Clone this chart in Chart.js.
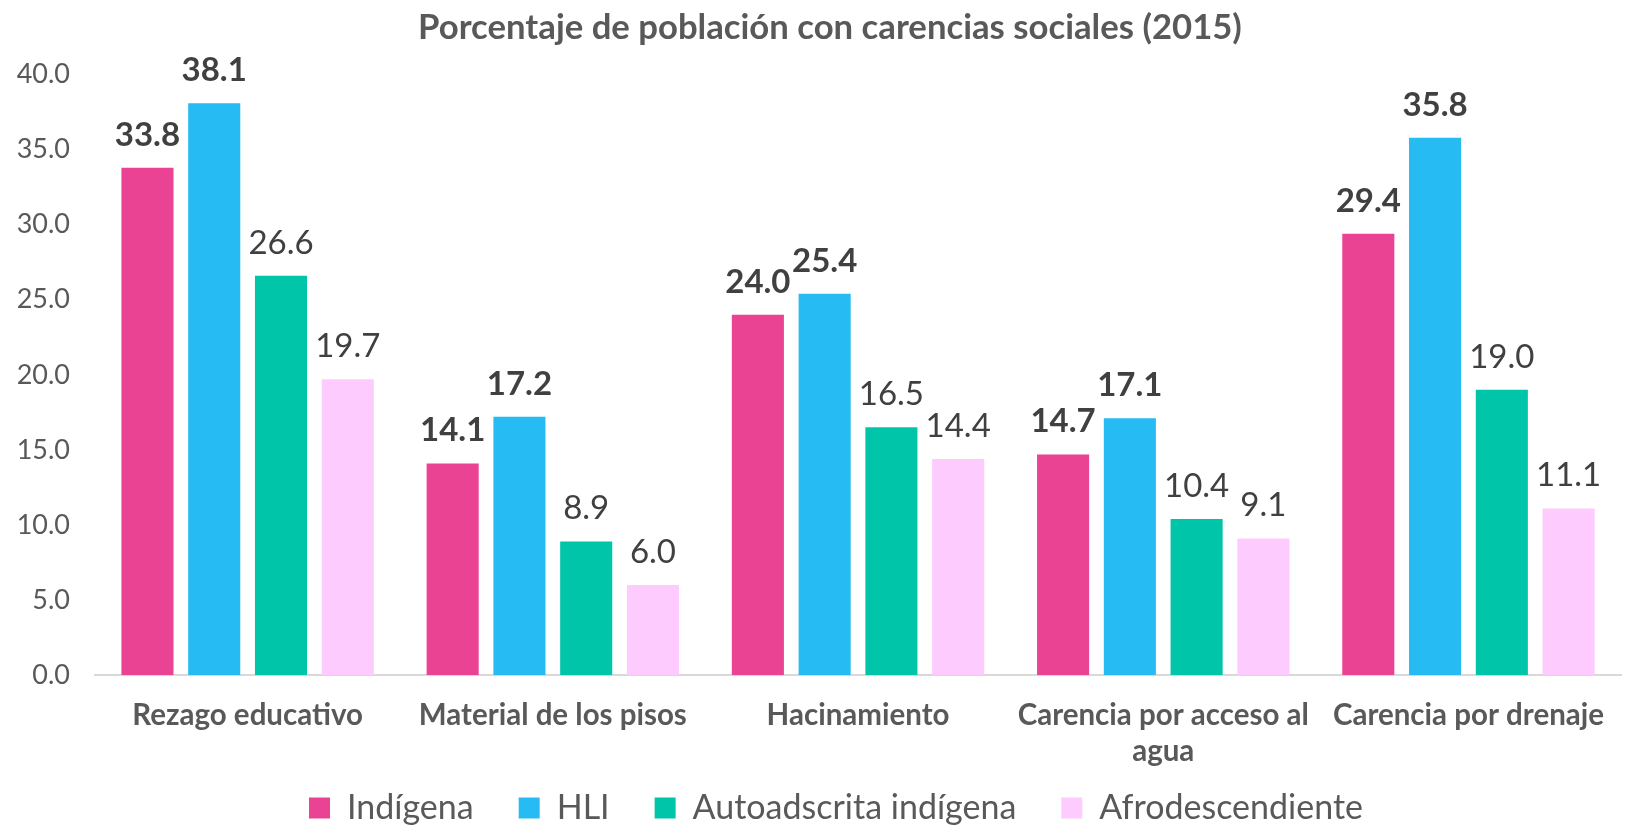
<!DOCTYPE html>
<html>
<head>
<meta charset="utf-8">
<script src="https://cdn.jsdelivr.net/npm/chart.js@4.4.1/dist/chart.umd.min.js"></script>
<style>
  html, body { margin: 0; padding: 0; background: #fff; }
  #wrap { width: 1626px; height: 828px; }
</style>
</head>
<body>
<div id="wrap"><canvas id="grafico"></canvas></div>
<script>
// datos
const categorias = ['Rezago educativo', 'Material de los pisos', 'Hacinamiento', ['Carencia por acceso al', 'agua'], 'Carencia por drenaje'];
const indigena = [33.8, 14.1, 24.0, 14.7, 29.4];
const hli = [38.1, 17.2, 25.4, 17.1, 35.8];
const autoadscrita = [26.6, 8.9, 16.5, 10.4, 19.0];
const afro = [19.7, 6.0, 14.4, 9.1, 11.1];
const ticksY = [0, 5, 10, 15, 20, 25, 30, 35, 40];

const fuente = 'Lato, "Open Sans", sans-serif';

// etiquetas encima de cada barra
const etiquetas = {
  id: 'etiquetas',
  afterLayout(chart) {
    // ajustes finos de titulo y leyenda
    chart.legend.top -= 45;
    chart.legend.bottom -= 45;
    chart.legend.left += 17;
    chart.legend.right += 17;
    chart.titleBlock.left += 11;
    chart.titleBlock.right += 11;
  },
  afterDatasetsDraw(chart) {
    const ctx = chart.ctx;
    ctx.save();
    ctx.textAlign = 'center';
    ctx.textBaseline = 'alphabetic';
    ctx.fillStyle = '#404040';
    chart.data.datasets.forEach((ds, i) => {
      const meta = chart.getDatasetMeta(i);
      ctx.font = (i < 2 ? 'bold ' : '') + '33px ' + fuente;
      meta.data.forEach((bar, j) => {
        ctx.fillText(ds.data[j].toFixed(1), bar.x, bar.y - 22);
      });
    });
    ctx.restore();
  }
};

const ctx = document.getElementById('grafico');

new Chart(ctx, {
  type: 'bar',
  data: {
    labels: categorias,
    datasets: [
      { label: 'Indígena', data: indigena, backgroundColor: '#EA4393' },
      { label: 'HLI', data: hli, backgroundColor: '#26BBF2' },
      { label: 'Autoadscrita indígena', data: autoadscrita, backgroundColor: '#00C5A8' },
      { label: 'Afrodescendiente', data: afro, backgroundColor: '#FDCBFD' }
    ]
  },
  options: {
    responsive: true,
    maintainAspectRatio: false,
    animation: false,
    layout: { padding: { left: 12, right: 0, top: 0, bottom: -52 } },
    datasets: {
      bar: { categoryPercentage: 0.875, barPercentage: 0.78 }
    },
    plugins: {
      title: {
        display: true,
        text: 'Porcentaje de población con carencias sociales (2015)',
        color: '#595959',
        font: { family: fuente, size: 34.7, weight: 'bold', lineHeight: 1.2 },
        padding: { top: 7, bottom: 26 }
      },
      legend: {
        position: 'bottom',
        labels: {
          color: '#595959',
          font: { family: fuente, size: 34 },
          boxWidth: 21,
          boxHeight: 21,
          padding: 45
        }
      },
      tooltip: { enabled: false }
    },
    scales: {
      x: {
        grid: { display: false, drawTicks: false },
        border: { display: true, color: '#D9D9D9', width: 2 },
        ticks: {
          color: '#595959',
          font: { family: fuente, size: 29.5, weight: 'bold', lineHeight: 1.22 },
          padding: 22,
          maxRotation: 0,
          autoSkip: false
        }
      },
      y: {
        min: 0,
        max: 40,
        afterBuildTicks(axis) { axis.ticks = ticksY.map(v => ({ value: v })); },
        grid: { display: false, drawTicks: false },
        border: { display: false },
        ticks: {
          color: '#595959',
          font: { family: fuente, size: 27 },
          padding: 25,
          callback: v => v.toFixed(1)
        },
        afterFit(axis) { axis.width = 83; }
      }
    }
  },
  plugins: [etiquetas]
});
</script>
</body>
</html>
